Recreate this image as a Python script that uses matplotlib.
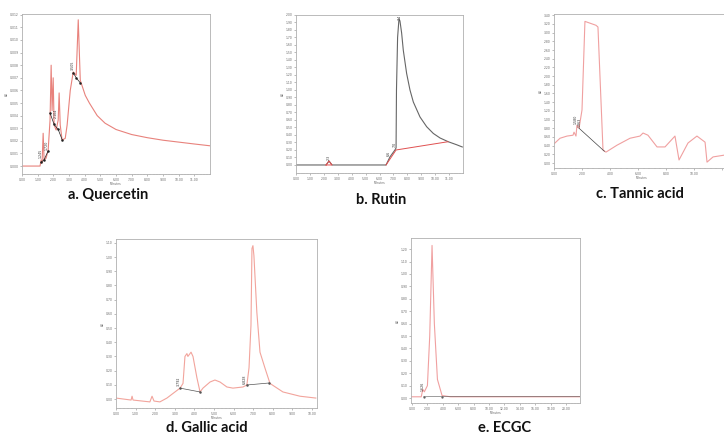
import numpy as np
from matplotlib import pyplot as plt
from matplotlib.ticker import AutoMinorLocator, FormatStrFormatter

# a. Quercetin  (minutes, AU x 0.001)
quer_t = [0, 1.15, 1.22, 1.28, 1.35, 1.41, 1.54, 1.67, 1.79, 1.86, 1.92, 1.99, 2.05,
          2.18, 2.31, 2.37, 2.44, 2.56, 2.76, 2.88, 3.08, 3.27, 3.46, 3.59, 3.72,
          4.04, 4.3, 4.55, 4.8, 5.3, 6.0, 7.0, 8.0, 9.0, 10.0, 11.0, 12.05]
quer_y = [0.0, 0.0, 0.48, 0.24, 2.6, 0.48, 0.63, 1.27, 3.65, 8.0, 4.4, 7.0, 3.25,
          2.86, 3.65, 5.8, 3.25, 2.06, 2.2, 3.25, 6.0, 7.46, 7.2, 11.6, 6.8,
          5.6, 5.0, 4.5, 4.0, 3.4, 2.9, 2.5, 2.25, 2.05, 1.9, 1.75, 1.6]

# b. Rutin
rutin_t = [0, 2.16, 2.37, 2.59, 6.47, 6.75, 7.11, 7.19, 7.22, 7.3, 7.4, 7.47, 7.59,
           7.71, 7.95, 8.19, 8.43, 8.91, 9.39, 9.87, 10.35, 10.94, 11.54, 11.95]
rutin_y = [0, 0, 0.053, 0, 0, 0.107, 0.2, 0.227, 1.0, 1.7, 1.95, 1.92, 1.76,
           1.53, 1.22, 1.0, 0.84, 0.64, 0.51, 0.42, 0.36, 0.31, 0.27, 0.24]

# c. Tannic acid
tannic_t = [0, 0.43, 0.93, 1.36, 1.43, 1.57, 1.64, 1.79, 2.0, 2.21, 3.0, 3.14, 3.5,
            3.71, 4.5, 5.43, 6.14, 6.36, 6.71, 7.36, 7.93, 8.64, 8.93, 9.57, 10.21,
            10.79, 10.93, 11.36, 12.14]
tannic_y = [0.44, 0.57, 0.62, 0.64, 0.71, 0.62, 0.87, 0.80, 1.22, 3.26, 3.17, 3.13, 0.30,
            0.25, 0.41, 0.57, 0.62, 0.69, 0.64, 0.37, 0.37, 0.62, 0.07, 0.46, 0.62,
            0.48, 0.02, 0.14, 0.18]

# d. Gallic acid
gallic_t = [0, 0.77, 0.82, 0.87, 1.73, 1.84, 1.94, 2.24, 2.6, 3.01, 3.27, 3.42, 3.52,
            3.62, 3.67, 3.83, 3.93, 4.13, 4.29, 4.44, 4.8, 5.05, 5.31, 5.66, 5.97,
            6.48, 6.68, 6.79, 6.89, 6.94, 6.99, 7.04, 7.19, 7.35, 7.6, 7.86, 8.52,
            9.39, 10.2]
gallic_y = [0.007, -0.007, 0.02, -0.007, -0.02, 0.02, -0.014, -0.02, 0.007, 0.05, 0.077,
            0.11, 0.30, 0.32, 0.30, 0.33, 0.30, 0.15, 0.05, 0.077, 0.12, 0.134, 0.12,
            0.085, 0.077, 0.085, 0.099, 0.22, 0.52, 1.06, 1.08, 1.01, 0.61, 0.33, 0.22,
            0.11, 0.05, 0.02, 0.007]

# e. ECGC
ecgc_t = [-0.1, 1.2, 1.4, 1.6, 2.0, 2.3, 2.6, 2.9, 3.3, 3.9, 5.0, 21.8]
ecgc_y = [0.01, 0.01, 0.07, 0.05, 0.1, 0.5, 1.23, 0.6, 0.15, 0.02, 0.01, 0.01]

captions = ["a. Quercetin", "b. Rutin", "c. Tannic acid", "d. Gallic acid", "e. ECGC"]

fig = plt.figure(figsize=(7.24, 4.37), dpi=100)
W, H = 724.0, 437.0


def make_ax(l, r, t, b):
    ax = fig.add_axes([l / W, 1 - b / H, (r - l) / W, (b - t) / H])
    for s in ax.spines.values():
        s.set_color("#b0b0b0")
        s.set_linewidth(0.6)
    ax.tick_params(labelsize=2.2, labelcolor="#666666", length=1.6, width=0.4,
                   color="#888888", pad=1)
    ax.tick_params(which="minor", length=0.9, width=0.3, color="#888888")
    ax.xaxis.set_minor_locator(AutoMinorLocator(5))
    ax.set_xlabel("Minutes", fontsize=2.2, color="#666666", labelpad=0.5)
    ax.set_ylabel("AU", fontsize=2.2, color="#666666", labelpad=0.5)
    return ax


def tag(ax, x, y, s):
    ax.text(x, y, s, rotation=90, fontsize=2.3, color="#333333", ha="center", va="bottom")


# a
ax = make_ax(22, 210, 14, 174)
ax.plot(quer_t, np.array(quer_y) * 0.001, color="#e8827c", lw=0.8)
ax.plot([1.22, 1.41, 1.67], [0.0003, 0.0005, 0.0012], color="#222222", lw=0.5,
        marker="o", ms=0.8)
ax.plot([1.79, 2.05, 2.31, 2.56], [0.0042, 0.0033, 0.0029, 0.0021], color="#222222",
        lw=0.5, marker="o", ms=0.8)
ax.plot([3.27, 3.46, 3.72], [0.0074, 0.0070, 0.0066], color="#222222", lw=0.5,
        marker="o", ms=0.8)
tag(ax, 1.2, 0.0006, "1.245")
tag(ax, 1.55, 0.0013, "1.720")
tag(ax, 2.15, 0.0038, "2.104")
tag(ax, 3.25, 0.0076, "3.505")
ax.set_xlim(0, 12)
ax.set_ylim(-0.00063, 0.01206)
ax.set_xticks(np.arange(0, 12, 1))
ax.set_yticks(np.arange(0, 0.0121, 0.001))
ax.xaxis.set_major_formatter(FormatStrFormatter("%.2f"))
ax.yaxis.set_major_formatter(FormatStrFormatter("%.3f"))

# b
ax = make_ax(296, 463, 15, 173)
ax.plot(rutin_t, rutin_y, color="#666666", lw=0.8)
ax.plot([2.16, 2.37, 2.59, 2.16], [0, 0.053, 0, 0], color="#e05050", lw=0.7)
ax.plot([6.47, 7.19, 10.92], [0, 0.2, 0.31], color="#e05050", lw=0.7)
tag(ax, 2.37, 0.07, "2.3")
tag(ax, 6.7, 0.12, "6.6")
tag(ax, 7.1, 0.24, "7.0")
tag(ax, 7.47, 1.93, "7.4")
ax.set_xlim(0, 12)
ax.set_ylim(-0.107, 2.0)
ax.set_xticks(np.arange(0, 12, 1))
ax.set_yticks(np.arange(0, 2.01, 0.1))
ax.xaxis.set_major_formatter(FormatStrFormatter("%.2f"))
ax.yaxis.set_major_formatter(FormatStrFormatter("%.2f"))

# c
ax = make_ax(554, 729, 14, 168)
ax.plot(tannic_t, tannic_y, color="#f0a0a0", lw=0.8)
ax.plot([1.79, 3.6], [0.80, 0.27], color="#444444", lw=0.5)
tag(ax, 1.55, 0.9, "1.580")
tag(ax, 1.8, 0.82, "1.863")
ax.set_xlim(0, 12.5)
ax.set_ylim(-0.115, 3.43)
ax.set_xticks(np.arange(0, 12.1, 2))
ax.set_xticklabels(["0.00", "2.00", "4.00", "6.00", "8.00", "10.00", ""])
ax.set_yticks(np.arange(0, 3.41, 0.2))
ax.yaxis.set_major_formatter(FormatStrFormatter("%.2f"))

# d
ax = make_ax(116, 317, 239, 408)
ax.plot(gallic_t, gallic_y, color="#f2a49c", lw=0.8)
ax.plot([3.27, 4.29], [0.077, 0.05], color="#555555", lw=0.5, marker="o", ms=0.8)
ax.plot([6.68, 7.81], [0.099, 0.113], color="#555555", lw=0.5, marker="o", ms=0.8)
tag(ax, 3.2, 0.09, "3.792")
tag(ax, 6.55, 0.105, "6.828")
ax.set_xlim(0, 10.26)
ax.set_ylim(-0.063, 1.127)
ax.set_xticks(np.arange(0, 10.1, 1))
ax.set_yticks(np.arange(0, 1.11, 0.1))
ax.xaxis.set_major_formatter(FormatStrFormatter("%.2f"))
ax.yaxis.set_major_formatter(FormatStrFormatter("%.2f"))

# e
ax = make_ax(411, 580, 238, 403)
ax.plot(ecgc_t, ecgc_y, color="#f0a0a0", lw=0.8)
ax.plot([1.5, 3.9, 21.8], [0.01, 0.012, 0.012], color="#555555", lw=0.4, marker="o",
        ms=0.6, markevery=[0, 1])
tag(ax, 1.45, 0.06, "1.626")
ax.set_xlim(-0.13, 21.8)
ax.set_ylim(-0.04, 1.29)
ax.set_xticks(np.arange(0, 20.1, 2))
ax.set_yticks(np.arange(0, 1.21, 0.1))
ax.xaxis.set_major_formatter(FormatStrFormatter("%.2f"))
ax.yaxis.set_major_formatter(FormatStrFormatter("%.2f"))

# captions
cap_pos = [(108, 195), (381, 200), (640, 194), (207, 428), (505, 428)]
for (cx, cy), s in zip(cap_pos, captions):
    fig.text(cx / W, 1 - cy / H, s, ha="center", va="center", fontsize=10.5,
             fontweight="bold", family="Lato", color="#111111")

fig.savefig("out.png", dpi=100)
